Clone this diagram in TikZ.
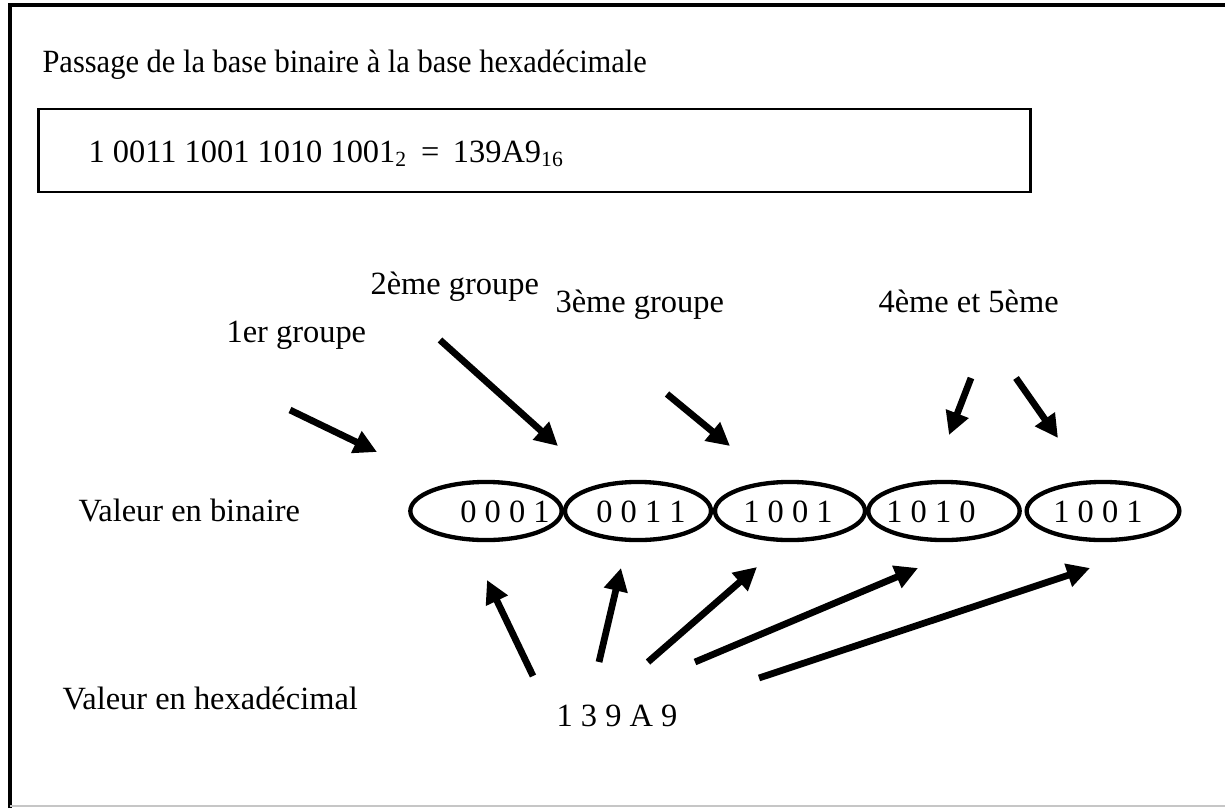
\documentclass[tikz,border=0pt]{standalone}
\usepackage{fontspec}
\setmainfont{Liberation Serif}
\usetikzlibrary{arrows.meta, shapes.geometric}

\begin{document}
\begin{tikzpicture}[
    x=0.37pt, y=-0.37pt,
    txt/.style={anchor=base west, inner sep=0pt, font=\fontsize{12}{14}\selectfont},
    grp/.style={draw, ellipse, line width=1.6pt, minimum height=21.5pt, inner sep=0pt},
    bits/.style={font=\fontsize{12}{14}\selectfont},
    arrow/.style={-{Triangle[length=8.5pt, width=8.5pt]}, line width=2.5pt}
]
\useasboundingbox (0,0) rectangle (1225,808);
% page frame
\draw[line width=1.5pt] (10,808) -- (10,5) -- (1225,5);
\draw[gray!45, line width=0.6pt] (10,806) -- (1225,806);

\node[txt] (title) at (42,72) {\scalebox{0.94}[1]{Passage de la base binaire à la base hexadécimale}};
\node[draw, line width=0.8pt, minimum width=367pt, minimum height=31pt, inner sep=0pt] (box) at (534.5,150.5) {};
\node[txt] (eq) at (88,162) {1 0011 1001 1010 1001\textsubscript{2} \,=\, 139A9\textsubscript{16}};

\node[txt] (g2) at (370,294) {2ème groupe};
\node[txt] (g3) at (555,312) {3ème groupe};
\node[txt] (g45) at (878,312) {4ème et 5ème};
\node[txt] (g1) at (226,342) {1er groupe};

% the groups of four bits
\node[grp, minimum width=56pt] (b1) at (486,511) {};
\node[grp, minimum width=54pt] (b2) at (638,511) {};
\node[grp, minimum width=55.5pt] (b3) at (790,511) {};
\node[grp, minimum width=56pt] (b4) at (944,511) {};
\node[grp, minimum width=56.5pt] (b5) at (1103,511) {};
\node[bits] (v1) at (505,512) {0 0 0 1};
\node[bits] (v2) at (641,512) {0 0 1 1};
\node[bits] (v3) at (788,512) {1 0 0 1};
\node[bits] (v4) at (931,512) {1 0 1 0};
\node[bits] (v5) at (1098,512) {1 0 0 1};

\node[txt] (bin) at (78,521) {Valeur en binaire};
\node[txt] (hex) at (62,709) {Valeur en hexadécimal};
\node[bits] (h) at (617,716) {1 3 9 A 9};

% arrow ends
\coordinate (t1) at (290,410);  \coordinate (p1) at (377,452);
\coordinate (t2) at (440,340);  \coordinate (p2) at (558,446);
\coordinate (t3) at (667,394);  \coordinate (p3) at (730,446);
\coordinate (t4) at (971,378);  \coordinate (p4) at (949,435);
\coordinate (t5) at (1016,378); \coordinate (p5) at (1058,438);

\draw[arrow] (t1) -- (p1);
\draw[arrow] (t2) -- (p2);
\draw[arrow] (t3) -- (p3);
\draw[arrow] (t4) -- (p4);
\draw[arrow] (t5) -- (p5);

\coordinate (u1) at (533,676); \coordinate (q1) at (487,580);
\coordinate (u2) at (599,662); \coordinate (q2) at (621,568);
\coordinate (u3) at (648,662); \coordinate (q3) at (757,567);
\coordinate (u4) at (695,662); \coordinate (q4) at (918,568);
\coordinate (u5) at (759,678); \coordinate (q5) at (1090,568);

\draw[arrow] (u1) -- (q1);
\draw[arrow] (u2) -- (q2);
\draw[arrow] (u3) -- (q3);
\draw[arrow] (u4) -- (q4);
\draw[arrow] (u5) -- (q5);
\end{tikzpicture}
\end{document}
